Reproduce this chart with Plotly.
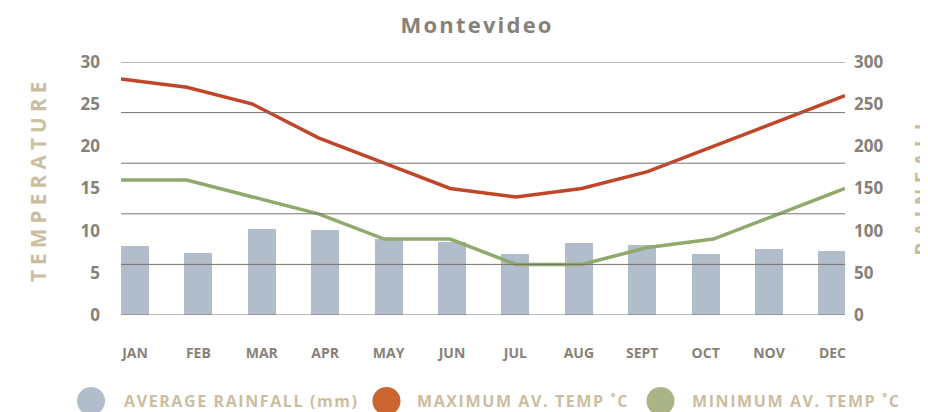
import plotly.graph_objects as go

months = ["JAN", "FEB", "MAR", "APR", "MAY", "JUN", "JUL", "AUG", "SEPT", "OCT", "NOV", "DEC"]
rainfall_mm = [82, 74, 102, 101, 90, 87, 72, 85, 83, 72, 78, 76]
max_temp_c = [28, 27, 25, 21, 18, 15, 14, 15, 17, 20, 23, 26]
min_temp_c = [16, 16, 14, 12, 9, 9, 6, 6, 8, 9, 12, 15]
grid_levels_temp = [0, 6, 12, 18, 24, 30]
temp_ticks = [0, 5, 10, 15, 20, 25, 30]
rain_ticks = [0, 50, 100, 150, 200, 250, 300]

BAR_C = "#b1bdca"
MAX_C = "#c0462a"
MIN_C = "#90a96d"
LEG_RAIN = "#b1bdcb"
LEG_MAX = "#cc6530"
LEG_MIN = "#abb485"
TXT = "#86827a"
BEIGE = "#cbbd9f"
GRID = "#777369"
FONT = "Open Sans"
HS = "\u200a"  # hair space for letter spacing

# the page body has an 8px margin, so the figure is sized to fill the window from (8, 8)
W, H = 920, 404

fig = go.Figure()
fig.add_trace(go.Bar(x=months, y=rainfall_mm, marker=dict(color=BAR_C, line=dict(width=0)),
                     width=0.4416, xaxis="x", yaxis="y", showlegend=False))
fig.add_trace(go.Scatter(x=months, y=max_temp_c, mode="lines", line=dict(color=MAX_C, width=3.5),
                         xaxis="x2", yaxis="y2", showlegend=False))
fig.add_trace(go.Scatter(x=months, y=min_temp_c, mode="lines", line=dict(color=MIN_C, width=3.5),
                         xaxis="x2", yaxis="y2", showlegend=False))

shapes = []
for g in grid_levels_temp:
    shapes.append(dict(type="line", xref="paper", yref="y2", x0=0, x1=1, y0=g, y1=g,
                       line=dict(color=GRID, width=1), layer="above"))

leg_items = [("AVERAGE RAINFALL (mm)", LEG_RAIN, -0.0414, 0.0014),
             ("MAXIMUM AV. TEMP ˚C", LEG_MAX, 0.3667, 0.406),
             ("MINIMUM AV. TEMP ˚C", LEG_MIN, 0.7452, 0.786)]
annotations = []
for text, col, cx, tx in leg_items:
    shapes.append(dict(type="circle", xref="paper", yref="paper", xsizemode="pixel", ysizemode="pixel",
                       xanchor=cx, yanchor=-0.34, x0=-14, x1=14, y0=-14, y1=14,
                       fillcolor=col, line=dict(width=0)))
    annotations.append(dict(text=HS.join(text), xref="paper", yref="paper", x=tx, y=-0.34,
                            xanchor="left", yanchor="middle", showarrow=False,
                            font=dict(family=FONT, size=16, color=BEIGE, weight="bold")))

annotations.append(dict(text=" ".join("TEMPERATURE"), xref="paper", yref="paper", x=-0.1145, y=0.5257,
                        textangle=-90, showarrow=False, xanchor="center", yanchor="middle",
                        font=dict(family=FONT, size=20.5, color=BEIGE, weight="bold")))
annotations.append(dict(text=" ".join("RAINFALL"), xref="paper", yref="paper", x=1.106, y=0.506,
                        textangle=-90, showarrow=False, xanchor="center", yanchor="middle",
                        font=dict(family=FONT, size=20.5, color=BEIGE, weight="bold")))

tickfont = dict(family=FONT, size=17, color=TXT, weight="bold")

fig.update_layout(
    width=W, height=H,
    margin=dict(l=113, r=83, t=54, b=97),
    paper_bgcolor="white", plot_bgcolor="white",
    title=dict(text=HS.join("Montevideo"), x=468 / W, xref="container", xanchor="center",
               y=1 - 17 / H, yanchor="middle",
               font=dict(family=FONT, size=22, color=TXT, weight="bold")),
    xaxis=dict(type="category", categoryarray=months, range=[-0.2208, 11.198], showgrid=False,
               zeroline=False, showline=False, ticks="", ticklabelstandoff=28,
               tickfont=dict(family=FONT, size=14, color=TXT, weight="bold")),
    yaxis=dict(range=[0, 300], tickvals=rain_ticks, side="right", showgrid=False, zeroline=False,
               showline=False, ticks="", ticklabelstandoff=8, tickfont=tickfont),
    xaxis2=dict(type="category", categoryarray=months, range=[0, 11], overlaying="x",
                showgrid=False, zeroline=False, showline=False, showticklabels=False, ticks=""),
    yaxis2=dict(range=[0, 30], tickvals=temp_ticks, side="left", overlaying="y", anchor="x2",
                showgrid=False, zeroline=False, showline=False, ticks="", ticklabelstandoff=20,
                tickfont=tickfont),
    shapes=shapes, annotations=annotations, bargap=0,
)

fig.write_html("out.html")
